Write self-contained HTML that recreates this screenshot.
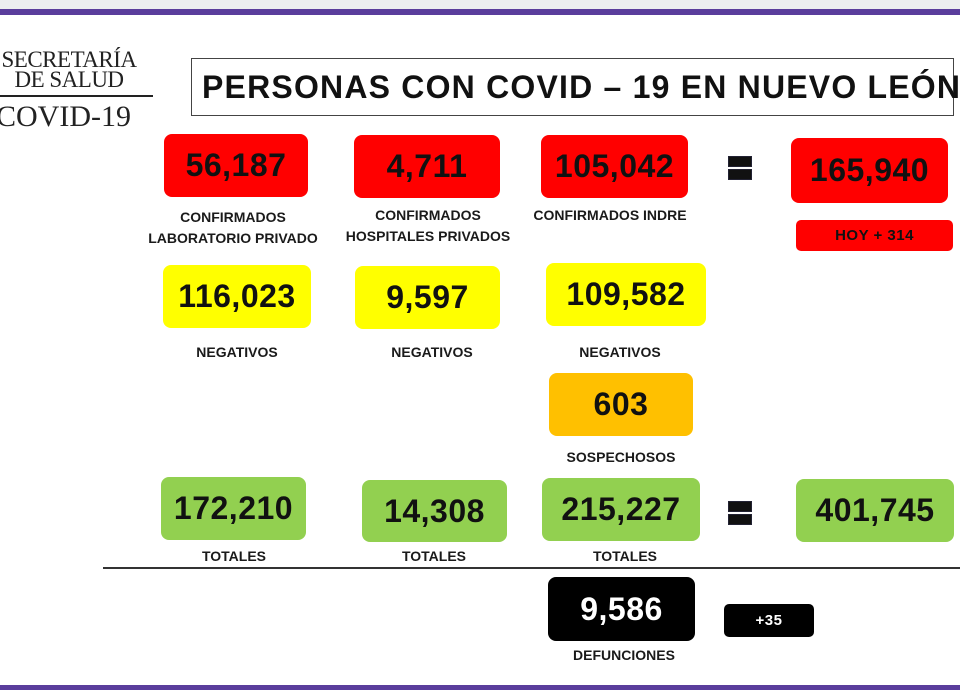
<!DOCTYPE html>
<html><head><meta charset="utf-8"><style>
body{margin:0;width:960px;height:690px;position:relative;background:#fff;overflow:hidden;font-family:"Liberation Sans",sans-serif;}
.a{position:absolute}
.box{position:absolute;border-radius:8px;display:flex;align-items:center;justify-content:center;font-weight:bold;font-size:32px;color:#111;letter-spacing:0.5px}
.r{background:#ff0000}.y{background:#ffff00}.g{background:#92d050}.o{background:#ffc000}.k{background:#000;color:#fff}
.lbl{position:absolute;font-weight:bold;font-size:14px;color:#1a1a1a;text-align:center;line-height:21px;transform:translateX(-50%);white-space:nowrap}
.eq{position:absolute;width:22px;height:24px;}
.eq:before,.eq:after{content:"";position:absolute;left:0;width:22px;height:9px;background:#111;border:1px solid #223}
.eq:before{top:0}.eq:after{bottom:0}
</style></head><body>
<div class="a" style="left:0;top:0;width:960px;height:9px;background:#eceef0"></div>
<div class="a" style="left:0;top:9px;width:960px;height:6px;background:#5a3d9c"></div>
<div class="a" style="left:0;top:685px;width:960px;height:5px;background:#5a3d9c"></div>

<div class="a" style="left:-6px;top:50px;font-family:'Liberation Serif',serif;font-size:23px;line-height:20px;color:#222;text-align:center;width:150px;letter-spacing:-0.5px">SECRETARÍA<br>DE SALUD</div>
<div class="a" style="left:0;top:95px;width:153px;height:2px;background:#222"></div>
<div class="a" style="left:-4px;top:100px;font-family:'Liberation Serif',serif;font-size:30px;color:#222">COVID-19</div>

<div class="a" style="left:191px;top:58px;width:763px;height:58px;border:1.5px solid #444;box-sizing:border-box;display:flex;align-items:center;padding-left:10px;font-weight:bold;font-size:32px;letter-spacing:1.2px;color:#111;white-space:nowrap">PERSONAS CON COVID – 19 EN NUEVO LEÓN</div>

<div class="box r" style="left:164px;top:134px;width:144px;height:63px">56,187</div>
<div class="box r" style="left:354px;top:135px;width:146px;height:63px">4,711</div>
<div class="box r" style="left:541px;top:135px;width:147px;height:63px">105,042</div>
<div class="eq" style="left:728px;top:156px"></div>
<div class="box r" style="left:791px;top:138px;width:157px;height:65px">165,940</div>
<div class="box r" style="left:796px;top:220px;width:157px;height:31px;font-size:15px;border-radius:5px">HOY + 314</div>
<div class="lbl" style="left:233px;top:207px">CONFIRMADOS<br>LABORATORIO PRIVADO</div>
<div class="lbl" style="left:428px;top:205px">CONFIRMADOS<br>HOSPITALES PRIVADOS</div>
<div class="lbl" style="left:610px;top:205px">CONFIRMADOS INDRE</div>

<div class="box y" style="left:163px;top:265px;width:148px;height:63px">116,023</div>
<div class="box y" style="left:355px;top:266px;width:145px;height:63px">9,597</div>
<div class="box y" style="left:546px;top:263px;width:160px;height:63px">109,582</div>
<div class="lbl" style="left:237px;top:342px">NEGATIVOS</div>
<div class="lbl" style="left:432px;top:342px">NEGATIVOS</div>
<div class="lbl" style="left:620px;top:342px">NEGATIVOS</div>

<div class="box o" style="left:549px;top:373px;width:144px;height:63px">603</div>
<div class="lbl" style="left:621px;top:447px">SOSPECHOSOS</div>

<div class="box g" style="left:161px;top:477px;width:145px;height:63px">172,210</div>
<div class="box g" style="left:362px;top:480px;width:145px;height:62px">14,308</div>
<div class="box g" style="left:542px;top:478px;width:158px;height:63px">215,227</div>
<div class="eq" style="left:728px;top:501px"></div>
<div class="box g" style="left:796px;top:479px;width:158px;height:63px">401,745</div>
<div class="lbl" style="left:234px;top:546px">TOTALES</div>
<div class="lbl" style="left:434px;top:546px">TOTALES</div>
<div class="lbl" style="left:625px;top:546px">TOTALES</div>

<div class="a" style="left:103px;top:567px;width:857px;height:2px;background:#333"></div>

<div class="box k" style="left:548px;top:577px;width:147px;height:64px">9,586</div>
<div class="box k" style="left:724px;top:604px;width:90px;height:33px;font-size:15px;border-radius:5px">+35</div>
<div class="lbl" style="left:624px;top:645px">DEFUNCIONES</div>
</body></html>
